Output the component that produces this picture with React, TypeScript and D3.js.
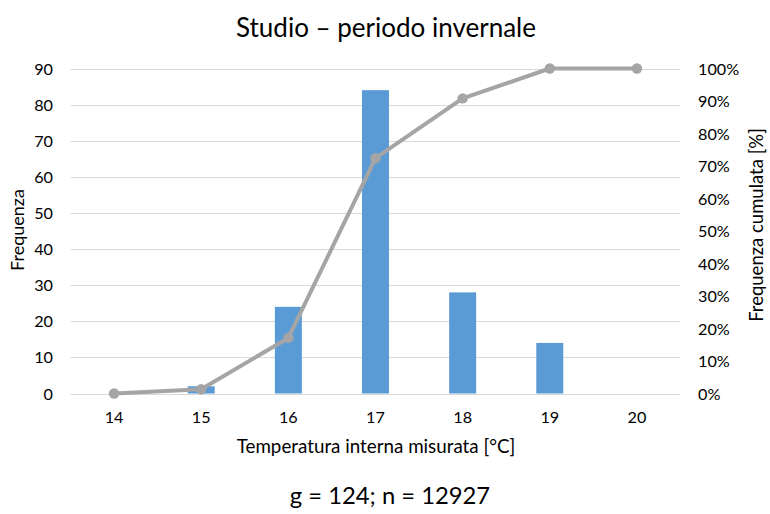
import React from "react";
import * as d3 from "d3";

const categories = ["14", "15", "16", "17", "18", "19", "20"];
const frequencies = [0, 2, 24, 84, 28, 14, 0];
const cumulative = [0, 0.013, 0.171, 0.724, 0.908, 1.0, 1.0];
const leftTicks = [0, 10, 20, 30, 40, 50, 60, 70, 80, 90];
const rightTicks = [0, 0.1, 0.2, 0.3, 0.4, 0.5, 0.6, 0.7, 0.8, 0.9, 1.0];

const W = 770, H = 514;
const FONT = "Lato, 'Open Sans', sans-serif";

export default function App() {
  const left = 70.5, right = 680.5, top = 68.5, bottom = 393.5;
  const x = d3.scaleBand().domain(categories).range([left, right]).paddingInner(0).paddingOuter(0);
  const yL = d3.scaleLinear().domain([0, 90]).range([bottom, top]);
  const yR = d3.scaleLinear().domain([0, 1]).range([bottom, top]);
  const barW = 27;
  const cx = (c: string) => (x(c) as number) + x.bandwidth() / 2;
  const line = d3.line<number>().x((_, i) => cx(categories[i])).y((d) => yR(d));
  return (
    <svg width={W} height={H} style={{ position: "absolute", left: 0, top: 0, display: "block", background: "#fff" }}>
      <text x={386} y={37} textAnchor="middle" fontFamily={FONT} fontSize={26} fill="#000">
        Studio – periodo invernale
      </text>
      {leftTicks.map((t) => (
        <line key={"g" + t} x1={left} x2={right} y1={Math.round(yL(t)) + 0.5} y2={Math.round(yL(t)) + 0.5}
          stroke="#D9D9D9" strokeWidth={1} />
      ))}
      {leftTicks.map((t) => (
        <text key={"l" + t} x={53} y={yL(t) + 6} textAnchor="end" fontFamily={FONT} fontSize={16.2} fill="#000">
          {t}
        </text>
      ))}
      {rightTicks.map((t) => (
        <text key={"r" + t} x={698} y={yR(t) + 6} textAnchor="start" fontFamily={FONT} fontSize={16.2} fill="#000">
          {Math.round(t * 100) + "%"}
        </text>
      ))}
      {categories.map((c) => (
        <text key={"x" + c} x={cx(c)} y={423} textAnchor="middle" fontFamily={FONT} fontSize={16.2} fill="#000">
          {c}
        </text>
      ))}
      {categories.map((c, i) => (
        <rect key={"b" + c} x={cx(c) - barW / 2} y={yL(frequencies[i])} width={barW}
          height={bottom - yL(frequencies[i])} fill="#5B9BD5" />
      ))}
      <path d={line(cumulative) || ""} fill="none" stroke="#A5A5A5" strokeWidth={4} strokeLinejoin="round" />
      {cumulative.map((v, i) => (
        <circle key={"c" + i} cx={cx(categories[i])} cy={yR(v)} r={5.2} fill="#A5A5A5" />
      ))}
      <text x={376} y={453} textAnchor="middle" fontFamily={FONT} fontSize={18.8} fill="#000">
        Temperatura interna misurata [°C]
      </text>
      <text transform="translate(24,230) rotate(-90)" textAnchor="middle" fontFamily={FONT} fontSize={18} fill="#000">
        Frequenza
      </text>
      <text transform="translate(763,225) rotate(-90)" textAnchor="middle" fontFamily={FONT} fontSize={18.5} fill="#000">
        Frequenza cumulata [%]
      </text>
      <text x={390} y={504} textAnchor="middle" fontFamily={FONT} fontSize={23.8} fill="#000">
        g = 124; n = 12927
      </text>
    </svg>
  );
}
